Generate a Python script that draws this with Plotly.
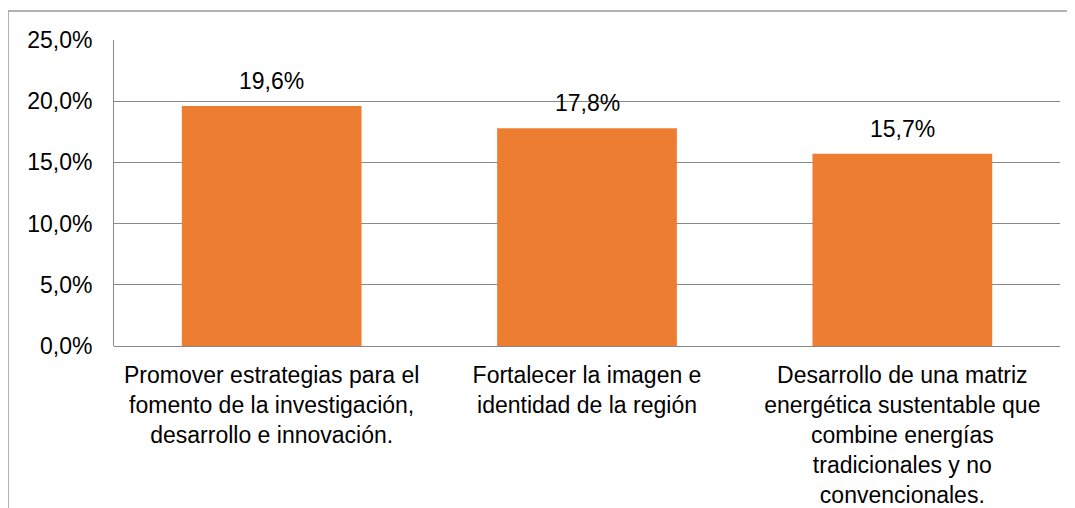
import plotly.graph_objects as go

categories = [
    "Promover estrategias para el<br>fomento de la investigación,<br>desarrollo e innovación.",
    "Fortalecer la imagen e<br>identidad de la región",
    "Desarrollo de una matriz<br>energética sustentable que<br>combine energías<br>tradicionales y no<br>convencionales.",
]
values = [0.196, 0.178, 0.157]
labels = ["19,6%", "17,8%", "15,7%"]
tick_vals = [0, 0.05, 0.10, 0.15, 0.20, 0.25]
tick_text = ["0,0%", "5,0%", "10,0%", "15,0%", "20,0%", "25,0%"]

FONT = "Liberation Sans, Arial, sans-serif"

# page body adds an 8px offset; figure is sized/placed to compensate
W, H = 1067, 500
L, R, T, B = 106, 15, 32, 162
PW, PH = W - L - R, H - T - B

fig = go.Figure()
fig.add_trace(go.Bar(
    x=categories, y=values,
    marker=dict(color="#ED7D31", line=dict(width=0)),
    width=0.57, hoverinfo="skip",
))

for c, v, t in zip(categories, values, labels):
    fig.add_annotation(x=c, y=v, text=t, showarrow=False,
                       yanchor="middle", yshift=25,
                       font=dict(family=FONT, size=23, color="#000000"))

fig.update_layout(
    width=W, height=H,
    margin=dict(l=L, r=R, t=T, b=B, autoexpand=False),
    paper_bgcolor="white", plot_bgcolor="white",
    showlegend=False,
    font=dict(family=FONT, size=23, color="#000000"),
    xaxis=dict(showgrid=False, showline=False, ticks="", automargin=False,
               ticklabelstandoff=13,
               tickfont=dict(family=FONT, size=23, color="#000000"),
               tickangle=0),
    yaxis=dict(range=[0, 0.25], tickvals=tick_vals, ticktext=tick_text,
               automargin=False,
               showgrid=True, gridcolor="#888888", gridwidth=1,
               showline=True, linecolor="#888888", linewidth=1,
               zeroline=True, zerolinecolor="#888888", zerolinewidth=1,
               ticks="", ticklabelstandoff=16,
               tickfont=dict(family=FONT, size=23, color="#000000")),
)

# outer frame (left and top edges)
fx = (0 - L) / PW
fy = (H - B - 3) / PH
fig.add_shape(type="line", xref="paper", yref="paper",
              x0=fx, x1=fx, y0=fy, y1=-(B + 10) / PH,
              line=dict(color="#9a9a9a", width=1.5))
fig.add_shape(type="line", xref="paper", yref="paper",
              x0=fx, x1=(W + 10 - L) / PW, y0=fy, y1=fy,
              line=dict(color="#9a9a9a", width=1.5))

fig.write_html("out.html")
